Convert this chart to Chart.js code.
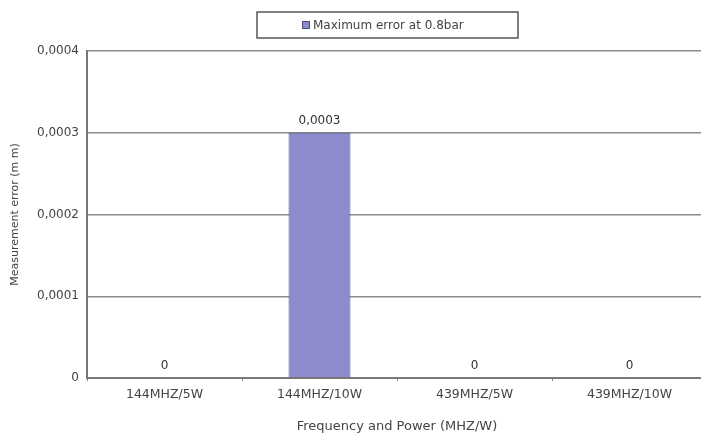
<!doctype html>
<html>
  <head>
    <title>Maximum error at 0.8bar</title>
    <script src="https://cdn.jsdelivr.net/npm/chart.js@4.4.1/dist/chart.umd.min.js"></script>
    <style>
      body { margin: 0; overflow: hidden; background: #fff; }
      #wrap { width: 701px; height: 436px; overflow: hidden; }
    </style>
  </head>
  <body>
    <div id="wrap">
      <canvas id="joonis" width="712" height="436"></canvas>
    </div>
    <script>
      const kategooriad = ['144MHZ/5W', '144MHZ/10W', '439MHZ/5W', '439MHZ/10W'];
      const vead = [0, 0.0003, 0, 0];
      const seeriaNimi = 'Maximum error at 0.8bar';
      const yTitle = 'Measurement error (m m)';
      const xTitle = 'Frequency and Power (MHZ/W)';

      const kiri = '"DejaVu Sans", sans-serif';
      const koma = v => v === 0 ? '0' : v.toFixed(4).replace('.', ',');

      // vaartused tulpade kohal
      const sildid = {
        id: 'sildid',
        afterDatasetsDraw(chart) {
          const ctx = chart.ctx;
          const meta = chart.getDatasetMeta(0);
          ctx.save();
          ctx.font = '12px ' + kiri;
          ctx.fillStyle = '#333';
          ctx.textAlign = 'center';
          ctx.textBaseline = 'bottom';
          meta.data.forEach((el, i) => {
            ctx.fillText(koma(vead[i]), el.x, el.y - 6);
          });
          ctx.restore();
        }
      };

      // legend raamiga
      const legend = {
        id: 'legend',
        afterDraw(chart) {
          const ctx = chart.ctx;
          ctx.save();
          ctx.fillStyle = '#fff';
          ctx.strokeStyle = '#555';
          ctx.lineWidth = 1.5;
          ctx.fillRect(257, 12, 261, 26);
          ctx.strokeRect(257, 12, 261, 26);
          ctx.fillStyle = '#8c8ccc';
          ctx.strokeStyle = '#4a4a7a';
          ctx.lineWidth = 1;
          ctx.fillRect(302.5, 21.5, 7, 7);
          ctx.strokeRect(302.5, 21.5, 7, 7);
          ctx.font = '12px ' + kiri;
          ctx.fillStyle = '#444';
          ctx.textAlign = 'left';
          ctx.textBaseline = 'middle';
          ctx.fillText(seeriaNimi, 313, 25.5);
          ctx.restore();
        }
      };

      const joonis = new Chart(document.getElementById('joonis'), {
        type: 'bar',
        data: {
          labels: kategooriad,
          datasets: [{
            label: seeriaNimi,
            data: vead,
            backgroundColor: '#8c8ccc',
            borderColor: '#5a5a96',
            borderWidth: 1,
            categoryPercentage: 1,
            barPercentage: 0.4
          }]
        },
        options: {
          responsive: false,
          animation: false,
          layout: { padding: { top: 51, right: 5, left: 0, bottom: 0 } },
          plugins: {
            legend: { display: false },
            tooltip: { enabled: false }
          },
          scales: {
            x: {
              offset: true,
              grid: {
                offset: true,
                drawOnChartArea: false,
                tickLength: 3,
                color: '#888',
                lineWidth: 1
              },
              border: { color: '#777', width: 2 },
              ticks: {
                color: '#444',
                font: { family: kiri, size: 12.5 },
                padding: 6,
                maxRotation: 0
              },
              title: {
                display: true,
                text: xTitle,
                color: '#444',
                font: { family: kiri, size: 13 },
                padding: { top: 0, bottom: 2 }
              },
              afterFit(scale) { scale.height = 58; }
            },
            y: {
              min: 0,
              max: 0.0004,
              ticks: {
                stepSize: 0.0001,
                color: '#444',
                font: { family: kiri, size: 12 },
                padding: 8,
                callback: v => koma(v)
              },
              grid: {
                color: '#8a8a8a',
                lineWidth: 1.5,
                drawTicks: false
              },
              border: { color: '#777', width: 2 },
              title: {
                display: true,
                text: yTitle,
                color: '#444',
                font: { family: kiri, size: 11 },
                padding: { top: 9, bottom: 0 }
              },
              afterFit(scale) { scale.width = 87; }
            }
          }
        },
        plugins: [sildid, legend]
      });
    </script>
  </body>
</html>
